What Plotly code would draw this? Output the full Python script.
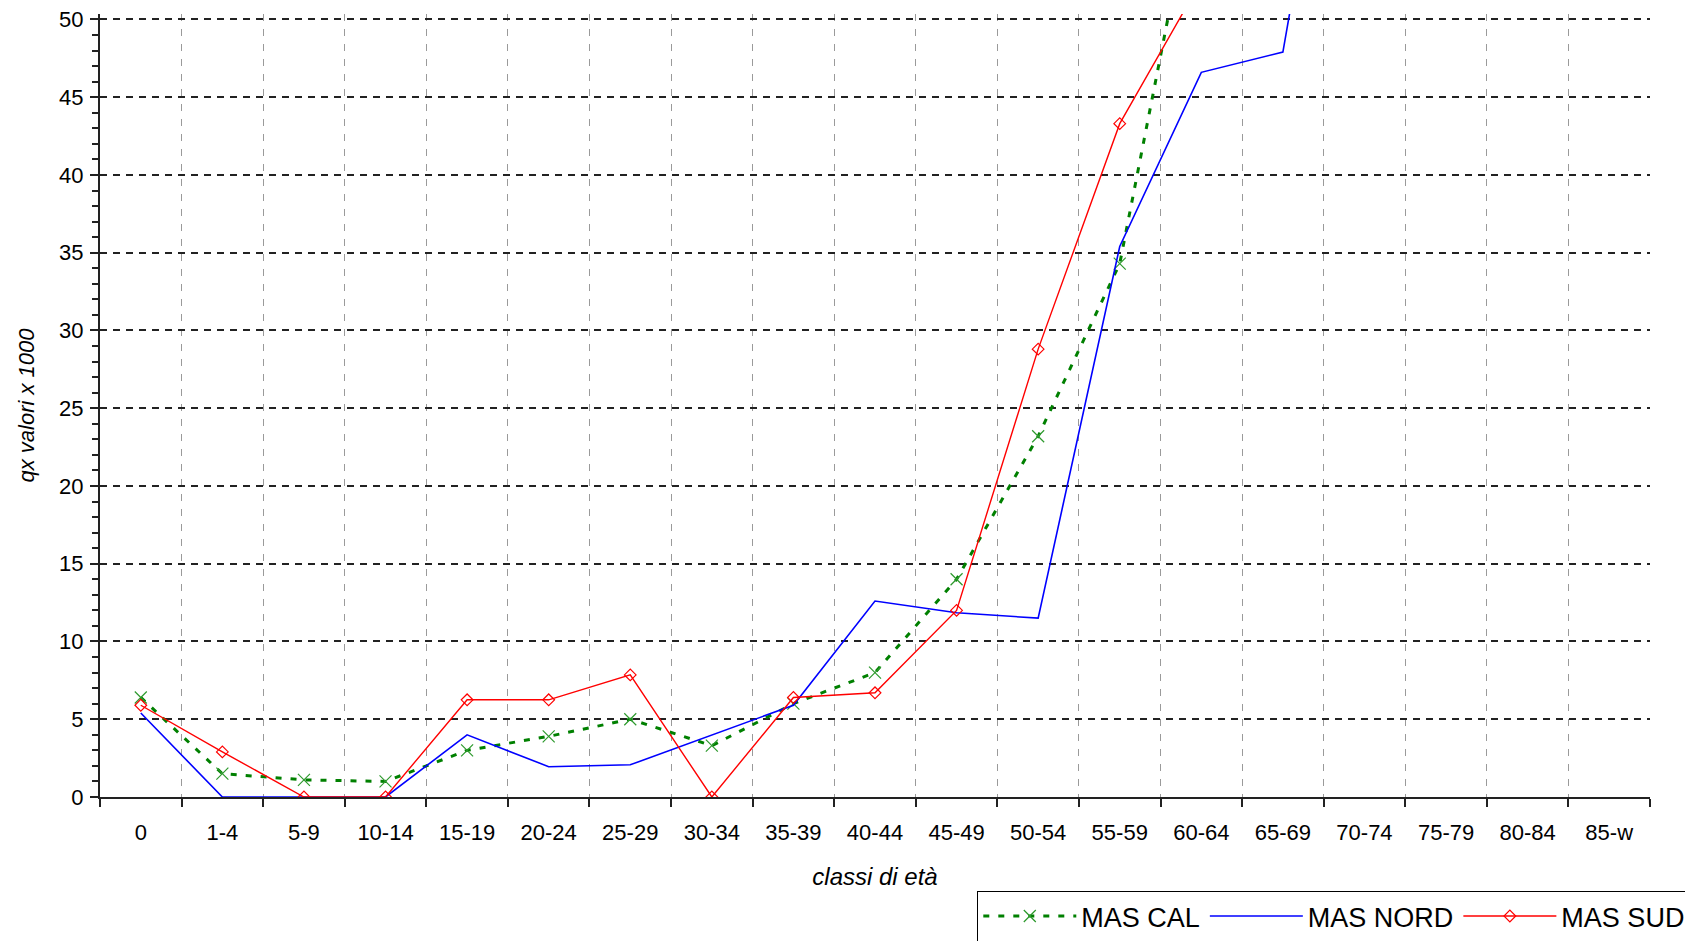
import plotly.graph_objects as go

# age classes
classi = ['0', '1-4', '5-9', '10-14', '15-19', '20-24', '25-29', '30-34', '35-39',
          '40-44', '45-49', '50-54', '55-59', '60-64', '65-69', '70-74', '75-79',
          '80-84', '85-w']

# qx x 1000 (values above 50 are off the chart, estimated)
mas_cal = [6.4, 1.5, 1.1, 1.0, 3.0, 3.9, 5.0, 3.3, 6.0, 8.0, 14.0, 23.2, 34.3,
           61.0, 98.0, 155.0, 250.0, 400.0, 1000.0]
mas_nord = [5.4, 0.0, 0.0, 0.0, 4.0, 1.95, 2.07, 4.0, 5.9, 12.6, 11.85, 11.5, 35.4,
            46.6, 47.9, 78.0, 130.0, 230.0, 1000.0]
mas_sud = [5.9, 2.9, 0.0, 0.0, 6.25, 6.25, 7.85, 0.0, 6.4, 6.7, 12.0, 28.8, 43.3,
           52.5, 90.0, 150.0, 250.0, 400.0, 1000.0]

FONT = 'Liberation Sans, Arial, sans-serif'

fig = go.Figure()

fig.add_trace(go.Scatter(
    x=classi, y=mas_cal, name='MAS CAL', mode='lines+markers',
    line=dict(color='#008000', width=3, dash='6px,9px'),
    marker=dict(symbol='x-thin-open', size=12, color='#2e9a2e',
                line=dict(color='#2e9a2e', width=1.2))
))
fig.add_trace(go.Scatter(
    x=classi, y=mas_nord, name='MAS NORD', mode='lines',
    line=dict(color='#0000ff', width=1.6)
))
fig.add_trace(go.Scatter(
    x=classi, y=mas_sud, name='MAS SUD', mode='lines+markers',
    line=dict(color='#ff0000', width=1.4),
    marker=dict(symbol='diamond-open', size=9, color='#ff0000',
                line=dict(color='#ff0000', width=1.2))
))

# the page body adds an 8px offset, so margins are compensated
fig.update_layout(
    width=1693, height=941,
    margin=dict(l=92, r=51, t=6, b=152, autoexpand=False),
    paper_bgcolor='white', plot_bgcolor='white',
    font=dict(family=FONT, color='black'),
    showlegend=True,
    legend=dict(
        orientation='h', x=0.566, y=-0.12, xanchor='left', yanchor='top',
        font=dict(size=27, color='black'),
        bordercolor='black', borderwidth=1, bgcolor='white',
        itemwidth=93, tracegroupgap=0,
    ),
)

fig.update_xaxes(
    type='category', tickson='boundaries', automargin=False,
    ticks='outside', ticklen=8, tickwidth=2, tickcolor='#222',
    showline=True, linecolor='#222', linewidth=2,
    showgrid=True, gridcolor='#9a9a9a', griddash='7px,8px', gridwidth=1,
    tickfont=dict(size=22, color='black'), ticklabelstandoff=15,
    title=dict(text='<i>classi di età</i>', font=dict(size=24, color='black'), standoff=24),
    range=[-0.5, 18.5], zeroline=False,
)

fig.update_yaxes(
    range=[0, 50.35], tick0=0, dtick=5, automargin=False,
    ticks='outside', ticklen=8, tickwidth=2, tickcolor='#222',
    minor=dict(dtick=1, ticks='outside', ticklen=6, tickwidth=2, tickcolor='#222', showgrid=False),
    showline=True, linecolor='#222', linewidth=2,
    showgrid=True, gridcolor='#222', griddash='7px,6px', gridwidth=1.5,
    tickfont=dict(size=22, color='black'), ticklabelstandoff=2,
    ticklabeloverflow='allow',
    title=dict(text='<i>qx valori x 1000</i>', font=dict(size=22, color='black'), standoff=18),
    zeroline=False,
)

fig.write_html('out.html')
